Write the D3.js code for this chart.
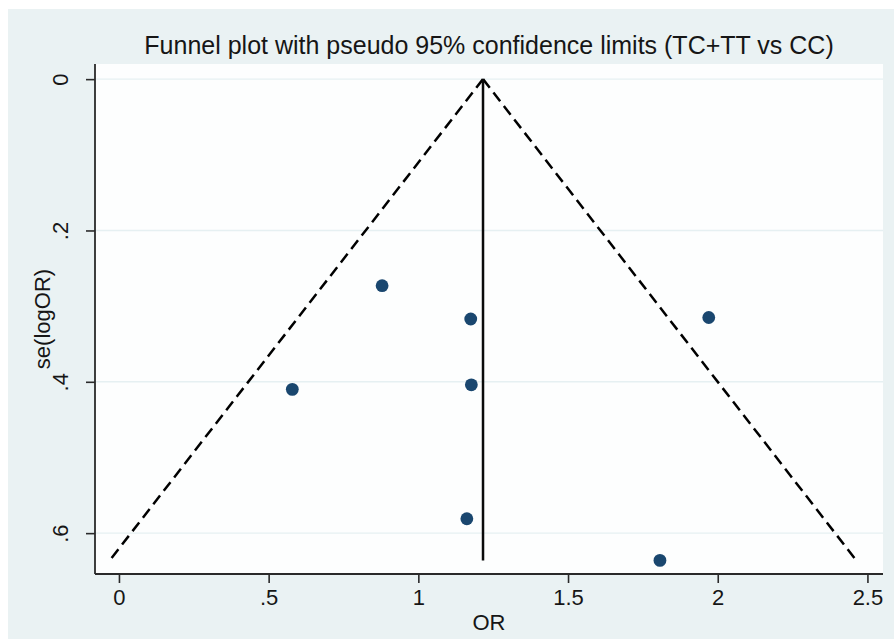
<!DOCTYPE html>
<html>
<head>
<meta charset="utf-8">
<script src="https://cdn.jsdelivr.net/npm/d3@7"></script>
<style>
  body { margin: 0; background: #fff; }
  text { font-family: "Liberation Sans", Arial, sans-serif; fill: #161616; }
</style>
</head>
<body>
<svg id="chart" width="894" height="639"></svg>
<script>
// study estimates
var orVals = [0.879, 1.175, 0.579, 1.177, 1.970, 1.162, 1.807];
var seVals = [0.273, 0.317, 0.410, 0.404, 0.315, 0.581, 0.636];
var pooledOR = 1.216;
var xTicks = [0, 0.5, 1, 1.5, 2, 2.5];
var xTickLabels = ["0", ".5", "1", "1.5", "2", "2.5"];
var yTicks = [0, 0.2, 0.4, 0.6];
var yTickLabels = ["0", ".2", ".4", ".6"];

var W = 894, H = 639;
var svg = d3.select("#chart");
var fontFam = "Liberation Sans, Arial, sans-serif";

// outer background (stata s2color)
svg.append("rect").attr("x", 8).attr("y", 9).attr("width", W - 8).attr("height", H - 9)
  .attr("fill", "#eaf2f3");

var pLeft = 95, pRight = 883, pTop = 64, pBottom = 574;

var x = d3.scaleLinear().domain([-0.08, 2.552]).range([pLeft, pRight]);
var y = d3.scaleLinear().domain([-0.02, 0.654]).range([pTop, pBottom]);

svg.append("rect").attr("x", pLeft).attr("y", pTop)
  .attr("width", pRight - pLeft).attr("height", pBottom - pTop).attr("fill", "#fdfefe");

// gridlines
svg.append("g").selectAll("line").data(yTicks).enter().append("line")
  .attr("x1", pLeft).attr("x2", pRight)
  .attr("y1", function(d) { return y(d); }).attr("y2", function(d) { return y(d); })
  .attr("stroke", "#e6f0f2").attr("stroke-width", 1.4);

// pseudo 95% limits, drawn from the apex down
var maxSe = d3.max(seVals);
var funnel = [
  [[pooledOR, 0], [pooledOR - 1.96 * maxSe, maxSe]],
  [[pooledOR, 0], [pooledOR + 1.96 * maxSe, maxSe]]
];
var line = d3.line().x(function(d) { return x(d[0]); }).y(function(d) { return y(d[1]); });
svg.append("g").selectAll("path").data(funnel).enter().append("path")
  .attr("d", line)
  .attr("fill", "none").attr("stroke", "#000").attr("stroke-width", 2.5)
  .attr("stroke-dasharray", "11,6");

// pooled estimate
svg.append("path")
  .attr("d", line([[pooledOR, 0], [pooledOR, maxSe]]))
  .attr("stroke", "#0a0a0a").attr("stroke-width", 2.5);

// points
svg.append("g").selectAll("circle").data(orVals).enter().append("circle")
  .attr("cx", function(d) { return x(d); })
  .attr("cy", function(d, i) { return y(seVals[i]); })
  .attr("r", 6.4)
  .attr("fill", "#1a476f");

// axes
var xAxis = d3.axisBottom(x).tickValues(xTicks).tickSize(9)
  .tickFormat(function(d, i) { return xTickLabels[i]; });
var gx = svg.append("g").attr("transform", "translate(0," + pBottom + ")").call(xAxis);
gx.select(".domain").attr("d", "M" + pLeft + ",0H" + pRight).attr("stroke", "#2a2a2a").attr("stroke-width", 1.8);
gx.selectAll(".tick line").attr("stroke", "#2a2a2a").attr("stroke-width", 1.6);
gx.selectAll(".tick text").attr("y", 31).attr("dy", null)
  .style("font-size", "22px").style("font-family", fontFam).attr("fill", "#161616");

var yAxis = d3.axisLeft(y).tickValues(yTicks).tickSize(9)
  .tickFormat(function(d, i) { return yTickLabels[i]; });
var gy = svg.append("g").attr("transform", "translate(" + pLeft + ",0)").call(yAxis);
gy.select(".domain").attr("d", "M0," + pTop + "V" + pBottom).attr("stroke", "#2a2a2a").attr("stroke-width", 1.8);
gy.selectAll(".tick line").attr("stroke", "#2a2a2a").attr("stroke-width", 1.6);
gy.selectAll(".tick text")
  .attr("x", null).attr("dy", null)
  .attr("text-anchor", "middle")
  .attr("transform", "translate(-27,0) rotate(-90)")
  .style("font-size", "22px").style("font-family", fontFam).attr("fill", "#161616");

// titles
svg.append("text").attr("x", (pLeft + pRight) / 2).attr("y", 54)
  .attr("text-anchor", "middle").style("font-size", "25px")
  .text("Funnel plot with pseudo 95% confidence limits (TC+TT vs CC)");

svg.append("text").attr("x", (pLeft + pRight) / 2).attr("y", 630)
  .attr("text-anchor", "middle").style("font-size", "22px")
  .text("OR");

svg.append("text").attr("transform", "translate(50," + ((pTop + pBottom) / 2) + ") rotate(-90)")
  .attr("text-anchor", "middle").style("font-size", "22px")
  .text("se(logOR)");
</script>
</body>
</html>
